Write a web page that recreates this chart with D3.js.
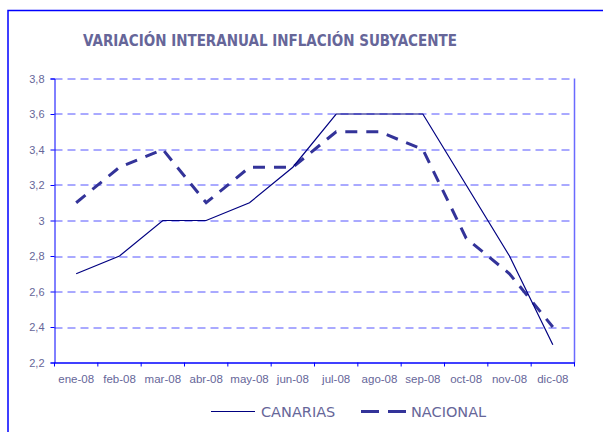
<!DOCTYPE html>
<html>
<head>
<meta charset="utf-8">
<script src="https://cdn.jsdelivr.net/npm/d3@7"></script>
<style>
	body { margin: 0; background: #fff; }
	svg { display: block; }
</style>
</head>
<body>
<div id="chart"></div>
<script>
const months = ['ene-08', 'feb-08', 'mar-08', 'abr-08', 'may-08', 'jun-08', 'jul-08', 'ago-08', 'sep-08', 'oct-08', 'nov-08', 'dic-08'];
const canarias = [2.7, 2.8, 3.0, 3.0, 3.1, 3.3, 3.6, 3.6, 3.6, 3.2, 2.8, 2.3];
const nacional = [3.1, 3.3, 3.4, 3.1, 3.3, 3.3, 3.5, 3.5, 3.4, 2.9, 2.7, 2.4];
const yTicks = [2.2, 2.4, 2.6, 2.8, 3.0, 3.2, 3.4, 3.6, 3.8];

const W = 603, H = 432;
const margin = { top: 78.5, left: 54.5, right: 28.5, bottom: 69.5 };
const width = W - margin.left - margin.right;
const height = H - margin.top - margin.bottom;
const textColor = '#666699';

const svg = d3.select('#chart').append('svg').attr('width', W).attr('height', H);

// outer frame
svg.append('rect')
	.attr('x', 8).attr('y', 10.5)
	.attr('width', W).attr('height', H)
	.attr('fill', 'none').attr('stroke', '#0000ff').attr('stroke-width', 1.5);

svg.append('text')
	.attr('x', 270).attr('y', 46)
	.attr('text-anchor', 'middle')
	.style('font-family', 'DejaVu Sans')
	.style('font-stretch', 'condensed')
	.style('font-weight', 'bold')
	.style('font-size', '15px')
	.style('fill', textColor)
	.text('VARIACIÓN INTERANUAL INFLACIÓN SUBYACENTE');

const g = svg.append('g').attr('transform', `translate(${margin.left}, ${margin.top})`);

const xBand = d3.scaleBand().domain(months).range([0, width]);
const x = (d) => xBand(d) + xBand.bandwidth() / 2;
const y = d3.scaleLinear().domain([2.2, 3.8]).range([height, 0]);

// gridlines
g.selectAll('.grid')
	.data(yTicks.slice(1))
	.enter()
	.append('line')
	.attr('x1', 0).attr('x2', width)
	.attr('y1', (d) => Math.round(y(d)) + 0.5)
	.attr('y2', (d) => Math.round(y(d)) + 0.5)
	.attr('stroke', '#5555ff')
	.attr('stroke-dasharray', '8, 5');

// plot frame right
g.append('line')
	.attr('x1', width).attr('x2', width).attr('y1', 0).attr('y2', height)
	.attr('stroke', '#6a6aff').attr('stroke-width', 1.5);

// y axis
const yAxis = g.append('g')
	.call(d3.axisLeft(y).tickValues(yTicks).tickSize(4).tickPadding(6)
		.tickFormat((d) => d3.format('.1f')(d).replace('.0', '').replace('.', ',')));
yAxis.select('.domain').attr('stroke', '#0000ff');
yAxis.selectAll('.tick line').attr('stroke', '#0000ff');
yAxis.selectAll('text')
	.style('font-family', 'Liberation Sans')
	.style('font-size', '11px')
	.style('fill', textColor);

// x axis
const xAxis = g.append('g')
	.attr('transform', `translate(0, ${height})`)
	.call(d3.axisBottom(xBand).tickSize(0).tickPadding(12));
xAxis.select('.domain').attr('stroke', '#0000ff').attr('stroke-width', 1.5);
xAxis.selectAll('text')
	.style('font-family', 'Liberation Sans')
	.style('font-size', '11.5px')
	.style('fill', textColor);

// x tick marks between categories
g.selectAll('.xtick')
	.data(d3.range(months.length + 1))
	.enter()
	.append('line')
	.attr('x1', (i) => i * xBand.step()).attr('x2', (i) => i * xBand.step())
	.attr('y1', height).attr('y2', height + 4)
	.attr('stroke', '#0000ff');

const line = d3.line().x((d, i) => x(months[i])).y((d) => y(d));

g.append('path')
	.datum(nacional)
	.attr('d', line)
	.attr('fill', 'none')
	.attr('stroke', '#333399')
	.attr('stroke-width', 3)
	.attr('stroke-dasharray', '12, 9');

g.append('path')
	.datum(canarias)
	.attr('d', line)
	.attr('fill', 'none')
	.attr('stroke', '#000080')
	.attr('stroke-width', 1.2);

// legend
const legend = svg.append('g');
legend.append('line')
	.attr('x1', 211).attr('x2', 255).attr('y1', 411.5).attr('y2', 411.5)
	.attr('stroke', '#000080').attr('stroke-width', 1.2);
legend.append('text')
	.attr('x', 261).attr('y', 417)
	.style('font-family', 'DejaVu Sans')
	.style('font-size', '14.5px')
	.style('fill', textColor)
	.text('CANARIAS');
legend.append('line')
	.attr('x1', 361).attr('x2', 406).attr('y1', 411.5).attr('y2', 411.5)
	.attr('stroke', '#333399').attr('stroke-width', 3)
	.attr('stroke-dasharray', '18, 9');
legend.append('text')
	.attr('x', 411).attr('y', 417)
	.style('font-family', 'DejaVu Sans')
	.style('font-size', '14.5px')
	.style('fill', textColor)
	.text('NACIONAL');
</script>
</body>
</html>
